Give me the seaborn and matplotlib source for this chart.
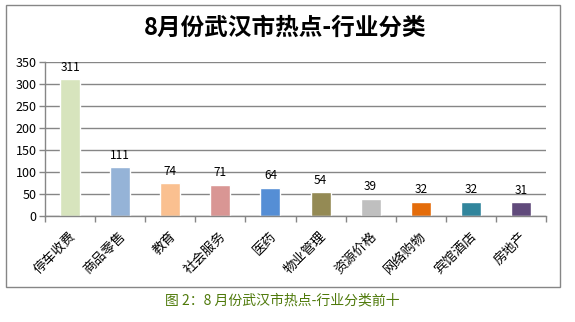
import matplotlib
matplotlib.use("Agg")
import matplotlib.pyplot as plt
from matplotlib.patches import Rectangle
from matplotlib.ticker import FixedLocator, MultipleLocator
from matplotlib.transforms import ScaledTranslation
import seaborn as sns
import pandas as pd

# 8月份武汉市热点 — 行业分类前十
categories = ["停车收费", "商品零售", "教育", "社会服务", "医药",
              "物业管理", "资源价格", "网络购物", "宾馆酒店", "房地产"]
counts = [311, 111, 74, 71, 64, 54, 39, 32, 32, 31]
bar_colors = ["#D7E4BD", "#95B3D7", "#FAC090", "#D99694", "#558ED5",
              "#948A54", "#BFBFBF", "#E46C0A", "#31859C", "#604A7B"]
y_ticks = [0, 50, 100, 150, 200, 250, 300, 350]

title_text = "8月份武汉市热点-行业分类"
caption_text = "图 2：8 月份武汉市热点-行业分类前十"

sns.set_theme(style="white")
plt.rcParams["font.family"] = ["Noto Sans CJK SC", "DejaVu Sans"]

df = pd.DataFrame({"行业": categories, "数量": counts})

W, H = 575, 322
fig = plt.figure(figsize=(W / 100, H / 100), dpi=100)
ax = fig.add_axes([45 / W, 1 - 216 / H, (546 - 45) / W, (216 - 62) / H])

sns.barplot(data=df, x="行业", y="数量", hue="行业", palette=bar_colors,
            legend=False, width=0.4, saturation=1, ax=ax)

grey = "#868686"
ax.set_ylim(0, 350)
ax.set_xlim(-0.5, len(categories) - 0.5)
ax.yaxis.set_major_locator(FixedLocator(y_ticks))
ax.grid(axis="y", color=grey, linewidth=1)
ax.set_axisbelow(True)
for side in ("top", "right"):
    ax.spines[side].set_visible(False)
for side in ("left", "bottom"):
    ax.spines[side].set_color(grey)
    ax.spines[side].set_linewidth(1)

ax.set_xlabel("")
ax.set_ylabel("")

# y axis ticks outward
ax.tick_params(axis="y", which="major", direction="out", length=4,
               width=1, color=grey, pad=2, labelsize=9, labelcolor="black", left=True)
# category boundaries as ticks, labels at category centres
ax.xaxis.set_minor_locator(MultipleLocator(1, offset=0.5))
ax.tick_params(axis="x", which="minor", direction="out", length=4,
               width=1, color=grey, bottom=True)
ax.tick_params(axis="x", which="major", length=0, pad=10)
ax.set_xticks(range(len(categories)))
ax.set_xticklabels(categories, rotation=45, ha="right", va="top",
                   rotation_mode="anchor", fontsize=9.5, color="black")
shift = ScaledTranslation(-1 / 100, 0, fig.dpi_scale_trans)
for lbl in ax.get_xticklabels():
    lbl.set_transform(lbl.get_transform() + shift)

# value labels above each bar
for i, v in enumerate(counts):
    ax.annotate(str(v), (i, v), xytext=(0, 4), textcoords="offset points",
                ha="center", va="bottom", fontsize=8.5, color="black")

fig.text(0.5 - 2 / W, 1 - 28 / H, title_text, ha="center", va="center",
         fontsize=17, fontweight="bold", color="black")

# chart frame
fig.patches.append(Rectangle((6 / W, 1 - 287 / H), (560 - 6) / W, (287 - 5) / H,
                             transform=fig.transFigure, fill=False,
                             edgecolor=grey, linewidth=1))

fig.text(282 / W, 1 - 300 / H, caption_text, ha="center", va="center",
         fontsize=10, color="#4F7A0B")

fig.savefig("out.png", dpi=100, facecolor="white")
